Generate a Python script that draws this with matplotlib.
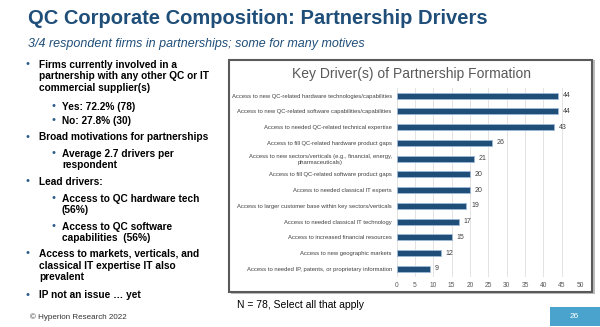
import matplotlib.pyplot as plt
from matplotlib.patches import Rectangle

plt.rcParams['font.family'] = ['Liberation Sans', 'DejaVu Sans']

# chart data
drivers = [
    'Access to new QC-related hardware technologies/capabilities',
    'Access to new QC-related software capabilities/capabilities',
    'Access to needed QC-related technical expertise',
    'Access to fill QC-related hardware product gaps',
    'Access to new sectors/verticals (e.g., financial, energy,\npharmaceuticals)',
    'Access to fill QC-related software product gaps',
    'Access to needed classical IT experts',
    'Access to larger customer base within key sectors/verticals',
    'Access to needed classical IT technology',
    'Access to increased financial resources',
    'Access to new geographic markets',
    'Access to needed IP, patents, or proprietary information',
]
counts = [44, 44, 43, 26, 21, 20, 20, 19, 17, 15, 12, 9]
xticks = [0, 5, 10, 15, 20, 25, 30, 35, 40, 45, 50]

# bullet text: (level, text)
bullets = [
    (0, 'Firms currently involved in a\npartnership with any other QC or IT\ncommercial supplier(s)'),
    (1, 'Yes: 72.2% (78)'),
    (1, 'No: 27.8% (30)'),
    (0, 'Broad motivations for partnerships'),
    (1, 'Average 2.7 drivers per\nrespondent'),
    (0, 'Lead drivers:'),
    (1, 'Access to QC hardware tech\n(56%)'),
    (1, 'Access to QC software\ncapabilities  (56%)'),
    (0, 'Access to markets, verticals, and\nclassical IT expertise IT also\nprevalent'),
    (0, 'IP not an issue \u2026 yet'),
]
bullet_y = [64, 106.5, 120, 136.5, 153, 181.5, 198, 226, 253.5, 295]

W, H = 600, 327
fig = plt.figure(figsize=(6, 3.27), dpi=100)
fig.patch.set_facecolor('white')

def fx(px):
    return px / W

def fy(py):
    return 1 - py / H

navy = '#1f4e79'

# titles
fig.text(fx(28), fy(19), 'QC Corporate Composition: Partnership Drivers',
         fontsize=14.5, fontweight='bold', color=navy, va='center', ha='left')
fig.text(fx(28), fy(44), '3/4 respondent firms in partnerships; some for many motives',
         fontsize=9, style='italic', color=navy, va='center', ha='left')

# bullets
for (lvl, txt), y in zip(bullets, bullet_y):
    bx = 25 if lvl == 0 else 52
    tx = 39 if lvl == 0 else 62
    fig.text(fx(bx), fy(y), '\u2022', fontsize=8, color='#2e5c8a', va='center', ha='left')
    fig.text(fx(tx), fy(y - 4.5), txt, fontsize=7.3, fontweight='bold', color='black',
             va='top', ha='left', linespacing=1.2)

fig.text(fx(30), fy(317), '\u00a9 Hyperion Research 2022', fontsize=5.8, color='#333333',
         va='center', ha='left')

# chart frame with shadow
fig.patches.append(Rectangle((fx(230.5), fy(294)), fx(364), 234 / H, transform=fig.transFigure,
                             facecolor='#bbbbbb', edgecolor='none', zorder=-2))
fig.patches.append(Rectangle((fx(229), fy(292)), fx(363), 232 / H, transform=fig.transFigure,
                             facecolor='white', edgecolor='#5a5a5a', linewidth=1.5, zorder=-1))

fig.text(fx(411), fy(74), 'Key Driver(s) of Partnership Formation', fontsize=10,
         color='#595959', ha='center', va='center')

ax = fig.add_axes([fx(396.7), fy(276.6), fx(580 - 396.7), (276.6 - 87.8) / H])
ax.set_facecolor('none')
ypos = list(range(len(drivers)))
ax.barh(ypos, counts, height=0.38, color=navy, edgecolor='#9db8d6', linewidth=0.6, zorder=3)
for y, v in zip(ypos, counts):
    ax.text(v + 1.3, y, str(v), fontsize=5, color='#404040', va='center', ha='left')

ax.set_xlim(0, 50)
ax.set_ylim(len(drivers) - 0.5, -0.5)
ax.set_xticks(xticks)
ax.set_xticklabels([str(t) for t in xticks], fontsize=4.8, color='#595959')
ax.set_yticks(ypos)
ax.set_yticklabels(drivers, fontsize=4.2, color='#404040', ha='right')
for lab in ax.get_yticklabels():
    lab.set_multialignment('center')
ax.tick_params(axis='both', length=0, pad=3.5)
ax.tick_params(axis='x', pad=4)
ax.grid(axis='x', color='#e3e3e3', linewidth=0.7, zorder=0)
for s in ax.spines.values():
    s.set_visible(False)
ax.axvline(0, color='#d0d0d0', linewidth=0.6, zorder=1)

fig.text(fx(237), fy(305), 'N = 78, Select all that apply', fontsize=7.5, color='black',
         va='center', ha='left')

# page number tab
fig.patches.append(Rectangle((fx(550), fy(326)), fx(50), 19 / H, transform=fig.transFigure,
                             facecolor='#4aa3cc', edgecolor='none', zorder=0))
fig.text(fx(570), fy(316.5), '26', fontsize=6, color='white', va='center', ha='left')

fig.savefig('out.png', dpi=100)
